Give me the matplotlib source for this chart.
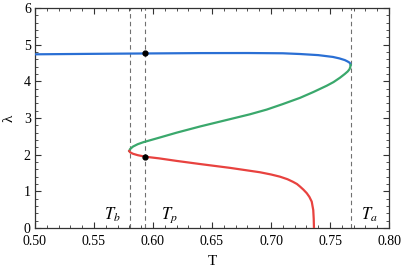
import numpy as np
import matplotlib
matplotlib.use("Agg")
import matplotlib.pyplot as plt
from matplotlib.ticker import MultipleLocator, FormatStrFormatter

plt.rcParams['font.family'] = ['Liberation Serif', 'DejaVu Serif']
plt.rcParams['mathtext.fontset'] = 'stix'

# branch values
blue_T = [0.500, 0.550, 0.593, 0.640, 0.680, 0.710, 0.7246, 0.740, 0.7525, 0.758,
          0.7625, 0.7650, 0.7665, 0.7672, 0.7675]
blue_lam = [4.737, 4.750, 4.760, 4.770, 4.772, 4.765, 4.745, 4.715, 4.665, 4.625,
            4.58, 4.54, 4.51, 4.48, 4.45]

green_T = [0.5799, 0.5805, 0.5830, 0.5870, 0.5918, 0.6060, 0.6200, 0.6300, 0.6400,
           0.6540, 0.6680, 0.6820, 0.6964, 0.7100, 0.7246, 0.7360, 0.7472, 0.7530,
           0.7585, 0.7625, 0.7650, 0.7665, 0.7672, 0.7675]
green_lam = [2.10, 2.15, 2.22, 2.285, 2.34, 2.47, 2.60, 2.685, 2.77,
             2.88, 2.99, 3.10, 3.23, 3.38, 3.55, 3.71, 3.88, 3.98,
             4.10, 4.20, 4.27, 4.33, 4.39, 4.45]

red_T = [0.5799, 0.5805, 0.5830, 0.5870, 0.5932, 0.605, 0.620, 0.6398, 0.6653, 0.6907,
         0.700, 0.7076, 0.714, 0.7186, 0.722, 0.7246, 0.7275, 0.7303, 0.7325, 0.7345,
         0.7358, 0.7362, 0.7364]
red_lam = [2.10, 2.067, 2.025, 1.987, 1.945, 1.90, 1.83, 1.745, 1.64, 1.52,
           1.46, 1.40, 1.33, 1.26, 1.20, 1.13, 1.045, 0.95, 0.85, 0.72,
           0.49, 0.25, 0.0]

T_b, T_p, T_a = 0.5808, 0.5932, 0.7675
dots_T = [0.5932, 0.5932]
dots_lam = [4.76, 1.945]

fig = plt.figure(figsize=(4.03, 2.73), dpi=100)
ax = fig.add_axes([0.0868, 0.1648, 0.8785, 0.8059])

for t in (T_b, T_p, T_a):
    ax.axvline(t, color='#707070', lw=0.8, ls=(0, (4, 3)), zorder=1)

ax.plot(blue_T, blue_lam, color='#2a6fd4', lw=1.6, zorder=3, solid_joinstyle='round')
ax.plot(green_T, green_lam, color='#3aa86c', lw=1.6, zorder=3, solid_joinstyle='round')
ax.plot(red_T, red_lam, color='#e8423f', lw=1.6, zorder=3, solid_joinstyle='round')
ax.plot(dots_T, dots_lam, 'o', color='black', ms=3.5, zorder=4)

ax.text(0.5653, 0.35, r'$T_b$', fontsize=12, ha='center', va='center')
ax.text(0.6136, 0.35, r'$T_p$', fontsize=12, ha='center', va='center')
ax.text(0.7830, 0.35, r'$T_a$', fontsize=12, ha='center', va='center')

ax.set_xlim(0.5, 0.8)
ax.set_ylim(0, 6)
ax.xaxis.set_major_locator(MultipleLocator(0.05))
ax.xaxis.set_minor_locator(MultipleLocator(0.01))
ax.yaxis.set_major_locator(MultipleLocator(1))
ax.yaxis.set_minor_locator(MultipleLocator(0.2))
ax.xaxis.set_major_formatter(FormatStrFormatter('%.2f'))
ax.tick_params(which='both', direction='in', top=True, right=True, colors='#333333',
               labelcolor='black', labelsize=10)
ax.tick_params(axis='x', pad=5)
ax.tick_params(axis='y', pad=3)
ax.tick_params(which='major', length=4, width=0.8)
ax.tick_params(which='minor', length=2, width=0.6)
for s in ax.spines.values():
    s.set_color('#333333')
    s.set_linewidth(0.9)

ax.set_xlabel('T', fontsize=11, labelpad=5)
ax.set_ylabel('λ', fontsize=11, labelpad=6)

fig.savefig('out.png', dpi=100)
